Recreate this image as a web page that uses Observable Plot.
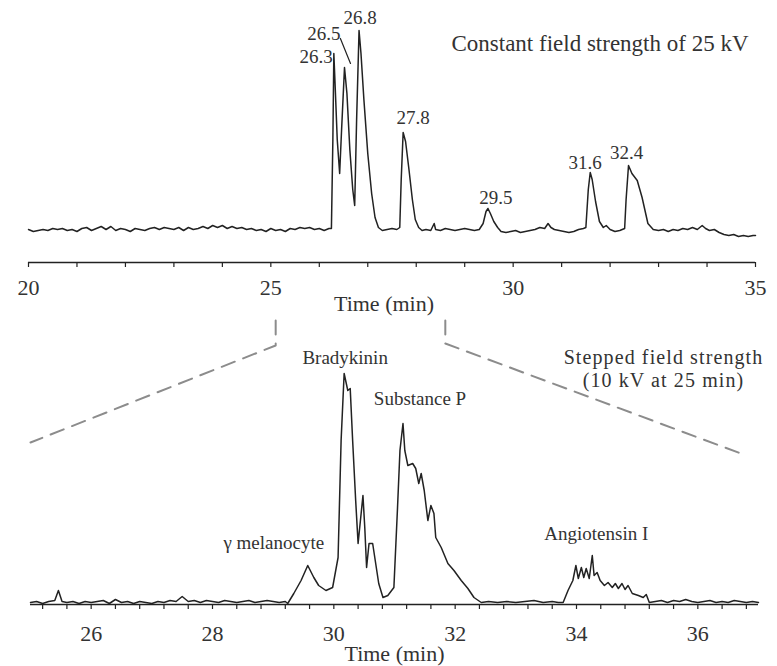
<!DOCTYPE html>
<html>
<head>
<meta charset="utf-8">
<script src="https://cdn.jsdelivr.net/npm/d3@7"></script>
<script src="https://cdn.jsdelivr.net/npm/@observablehq/plot@0.6"></script>
<style>
  body { margin: 0; background: #fff; }
  #chart { width: 777px; height: 666px; overflow: hidden; }
  #chart svg { display: block; }
  #chart .note text { letter-spacing: 1.1px; }
</style>
</head>
<body>
<div id="chart"></div>
<script>
// ---------- DATA ----------
// Upper electropherogram: constant field strength, [time (min), signal]
const topTrace = [
  [20.0,0],[20.1,-1],[20.2,-0.5],[20.3,0],[20.4,-0.5],[20.5,0.5],[20.6,0],[20.7,0.5],[20.8,-0.5],[20.9,0],
  [21.0,-1],[21.1,0.5],[21.2,1],[21.3,-0.5],[21.4,0.5],[21.5,1.5],[21.6,0],[21.7,1.5],[21.8,-0.5],[21.9,0.5],
  [22.0,0],[22.1,-1],[22.2,0.5],[22.3,0],[22.4,-0.5],[22.5,0.5],[22.6,1],[22.7,0],[22.8,1],[22.9,0.5],
  [23.0,0],[23.1,1],[23.2,-0.5],[23.3,1],[23.4,0],[23.5,0.5],[23.6,1.5],[23.7,0.5],[23.8,2],[23.9,1],
  [24.0,2],[24.1,0.5],[24.2,1.5],[24.3,0.5],[24.4,1],[24.5,0],[24.6,0.5],[24.7,-0.5],[24.8,0],[24.9,-1],
  [25.0,0.5],[25.1,-0.5],[25.2,0],[25.3,-1],[25.4,0.5],[25.5,0],[25.6,1],[25.7,0.5],[25.8,1],[25.9,0],
  [26.0,0.5],[26.1,-0.5],[26.2,0.5],[26.25,0.5],[26.28,45],[26.3,88],[26.33,70],[26.37,45],[26.42,28],
  [26.46,50],[26.52,81],[26.57,68],[26.63,40],[26.69,20],[26.73,12],[26.77,55],[26.82,99.5],[26.86,88],
  [26.92,65],[27.0,38],[27.08,18],[27.15,6],[27.22,1],[27.3,-0.5],[27.4,0],[27.5,0.5],[27.6,0],[27.66,1],
  [27.69,25],[27.73,48.5],[27.78,44],[27.85,30],[27.92,15],[27.98,5],[28.05,1],[28.12,-0.5],[28.2,0],
  [28.3,-0.5],[28.37,3],[28.4,0],[28.5,-0.5],[28.6,0.5],[28.7,0],[28.8,-0.5],[28.9,0],[29.0,0.5],[29.1,0],
  [29.2,-0.5],[29.3,0],[29.38,3],[29.44,9],[29.48,10.5],[29.53,8],[29.6,4],[29.68,1],[29.75,-1],[29.85,-1.5],
  [29.95,-1],[30.05,-0.5],[30.15,-1.5],[30.25,-1],[30.35,-0.5],[30.45,0],[30.55,1],[30.65,0.5],[30.72,3],
  [30.78,1],[30.85,0],[30.95,-0.5],[31.05,-1],[31.15,-1.5],[31.25,-1],[31.35,0],[31.45,0.5],[31.5,1],
  [31.55,20],[31.59,28.5],[31.63,25],[31.7,14],[31.78,4],[31.86,1],[31.92,2],[32.0,0],[32.1,-1],[32.2,-0.5],
  [32.3,0.5],[32.33,15],[32.38,32],[32.45,28],[32.56,24.5],[32.66,16],[32.78,3],[32.89,0],[33.0,-0.5],
  [33.1,0],[33.2,-1],[33.3,0],[33.4,-0.5],[33.5,0.5],[33.6,0],[33.7,1],[33.8,0],[33.9,2],[33.97,0.5],
  [34.05,-0.5],[34.15,0],[34.25,-1.5],[34.35,-2.5],[34.45,-3],[34.55,-2.5],[34.65,-3.5],[34.75,-3],
  [34.85,-3.5],[34.95,-3],[35.0,-3]
];
const topPeakLabels  = ["26.3", "26.5", "26.8", "27.8", "29.5", "31.6", "32.4"];
const topPeakTimes   = [26.3, 26.52, 26.82, 27.73, 29.48, 31.59, 32.38];
const topPeakHeights = [88, 81, 99.5, 48.5, 10.5, 28.5, 32];
const topTickValues  = [20,21,22,23,24,25,26,27,28,29,30,31,32,33,34,35];
const topTickLabels  = [20, 25, 30, 35];
const topNote = "Constant field strength of 25 kV";

// Lower electropherogram: stepped field strength, [time (min), signal]
const bottomTrace = [
  [25.0,0],[25.1,0.5],[25.2,-0.5],[25.3,0.5],[25.4,1],[25.46,6],[25.52,0.5],[25.6,0],[25.7,0.5],[25.8,-0.5],
  [25.9,0.5],[26.0,0],[26.1,0.5],[26.2,1],[26.3,-0.5],[26.4,1.5],[26.5,0],[26.6,0.5],[26.7,-0.5],[26.8,0.5],
  [26.9,0],[27.0,-0.5],[27.1,0.5],[27.2,0],[27.3,1],[27.4,0.5],[27.5,3],[27.6,0.5],[27.7,1],[27.8,0],
  [27.9,1],[28.0,0.5],[28.1,0],[28.2,1],[28.3,0.5],[28.4,0],[28.5,0.5],[28.6,1],[28.7,0],[28.8,0.5],
  [28.9,1],[29.0,0.5],[29.1,0],[29.2,0.5],[29.24,-0.5],[29.34,4.5],[29.46,11],[29.57,18.5],[29.67,12.5],
  [29.75,8.5],[29.87,6],[29.98,7.5],[30.07,22.5],[30.12,81],[30.17,114.5],[30.23,106],[30.27,107],
  [30.31,81],[30.36,51],[30.4,29.5],[30.45,44.5],[30.48,53.5],[30.51,37.5],[30.54,17.5],[30.58,29.5],
  [30.64,29.5],[30.69,19.5],[30.74,9.5],[30.81,2.5],[30.89,3.5],[30.99,7.5],[31.05,47.5],[31.09,76],
  [31.14,89.5],[31.17,76],[31.22,68.5],[31.3,69.5],[31.35,67],[31.4,59.5],[31.44,64.5],[31.49,56],
  [31.55,41],[31.6,48.5],[31.65,44.5],[31.68,32.5],[31.77,27.5],[31.88,19.5],[31.98,16],[32.1,11],
  [32.21,7],[32.31,2.5],[32.43,0],[32.55,0.5],[32.7,0],[32.85,0.5],[33.0,0],[33.15,0.5],[33.3,1],
  [33.45,0],[33.6,0.5],[33.7,0],[33.78,0],[33.86,6],[33.94,11],[33.99,18.5],[34.03,12],[34.08,17.5],
  [34.12,12.5],[34.16,17],[34.21,12],[34.26,23.5],[34.29,13.5],[34.34,15],[34.39,11],[34.46,8.5],
  [34.52,10],[34.59,7.5],[34.64,9.5],[34.69,7],[34.75,9.5],[34.8,6.5],[34.85,8.5],[34.92,4.5],
  [35.02,3.5],[35.1,2.5],[35.15,4],[35.2,0],[35.3,0.5],[35.4,1],[35.5,0],[35.6,1],[35.7,0.5],[35.8,1.5],
  [35.9,0.5],[36.0,0],[36.1,0.5],[36.2,1],[36.3,0],[36.4,0.5],[36.5,0],[36.6,1],[36.7,0.5],[36.8,0],
  [36.9,0.5],[37.0,0]
];
const bottomPeakLabels  = ["γ melanocyte", "Bradykinin", "Substance P", "Angiotensin I"];
const bottomPeakTimes   = [29.57, 30.17, 31.14, 34.26];
const bottomPeakHeights = [18.5, 114.5, 89.5, 23.5];
const bottomTickStep = 0.4;
const bottomTickFirst = 25.2, bottomTickLast = 36.8;
const bottomTickLabels = [26, 28, 30, 32, 34, 36];
const bottomNote = "Stepped field strength\n(10 kV at 25 min)";
const axisTitle = "Time (min)";

// Zoom guides: where they leave the upper time axis and where they land on the lower panel
const guideTopTimes = [25.1, 28.6];
const guideBottomTimes = [25, 36.8];

// ---------- LAYOUT ----------
const W = 777;
const topH = 316, botH = 350;
const topM = {left: 28, right: 22, top: 30, bottom: 54};
const botM = {left: 30, right: 19, top: 4, bottom: 62};
const topXDomain = [20, 35], topYDomain = [-16.5, 99.5];
const botXDomain = [25, 37], botYDomain = [-1, 141];
const guideLevels = {start: 141, bend: [128.5, 129.5], end: [80, 73.5]};
const topLabelLayout = [
  {dx: -1, dy: 3, anchor: "end"},
  {dx: -4, dy: -34, anchor: "end"},
  {dx: 1, dy: -13, anchor: "middle"},
  {dx: 10, dy: -15, anchor: "middle"},
  {dx: 8, dy: -11, anchor: "middle"},
  {dx: -5, dy: -10, anchor: "middle"},
  {dx: -2, dy: -13, anchor: "middle"}
];
const bottomLabelLayout = [
  {dx: -34, dy: -23}, {dx: 1, dy: -16}, {dx: 17, dy: -25}, {dx: 4, dy: -22}
];
const FONT = "'Liberation Serif', 'Times New Roman', serif";
const INK = "#222", TEXT = "#333";
const leaderShape = {draw(context, l) { context.moveTo(0, 0); context.lineTo(0, -l); }};

// ---------- TOP PANEL ----------
const topPlot = Plot.plot({
  width: W, height: topH,
  marginLeft: topM.left, marginRight: topM.right, marginTop: topM.top, marginBottom: topM.bottom,
  x: {domain: topXDomain},
  y: {domain: topYDomain, axis: null},
  style: {fontFamily: FONT, color: INK, background: "#fff"},
  marks: [
    Plot.ruleY([topYDomain[0]], {stroke: INK, strokeWidth: 1.5}),
    Plot.axisX(topTickValues, {
      tickSize: 5, tickPadding: 12, fontSize: 22, fill: TEXT, label: null, strokeWidth: 1.2,
      tickFormat: d => topTickLabels.includes(d) ? String(d) : ""
    }),
    Plot.line(topTrace, {x: d => d[0], y: d => d[1], stroke: INK, strokeWidth: 1.5}),
    ...topPeakLabels.map((lab, i) => Plot.text([i], {
      x: j => topPeakTimes[j], y: j => topPeakHeights[j], text: j => topPeakLabels[j],
      dx: topLabelLayout[i].dx, dy: topLabelLayout[i].dy, textAnchor: topLabelLayout[i].anchor,
      fontSize: 19, fill: TEXT
    })),
    Plot.vector([1], {
      x: j => topPeakTimes[j], y: j => topPeakHeights[j], length: 27, rotate: -22,
      anchor: "start", dx: 6, dy: -4, shape: leaderShape, stroke: INK, strokeWidth: 1.2
    }),
    Plot.text([axisTitle], {frameAnchor: "bottom", lineAnchor: "middle", dy: 41, dx: -8, fontSize: 22, fill: TEXT}),
    Plot.text([topNote], {frameAnchor: "top-right", textAnchor: "end", lineAnchor: "middle", dx: -7, dy: 13, fontSize: 23, fill: TEXT})
  ]
});

// ---------- BOTTOM PANEL ----------
const topX = topPlot.scale("x");
const botXPixel = d3.scaleLinear().domain(botXDomain).range([botM.left, W - botM.right]);
const guides = guideTopTimes.flatMap((t, i) => {
  const xb = botXPixel.invert(topX.apply(t));
  return [
    {g: i, x: xb, y: guideLevels.start},
    {g: i, x: xb, y: guideLevels.bend[i]},
    {g: i, x: guideBottomTimes[i], y: guideLevels.end[i]}
  ];
});
const bottomTicks = d3.range(Math.round((bottomTickLast - bottomTickFirst) / bottomTickStep) + 1)
  .map(k => +(bottomTickFirst + k * bottomTickStep).toFixed(1));

const botPlot = Plot.plot({
  width: W, height: botH,
  marginLeft: botM.left, marginRight: botM.right, marginTop: botM.top, marginBottom: botM.bottom,
  x: {domain: botXDomain},
  y: {domain: botYDomain, axis: null},
  style: {fontFamily: FONT, color: INK, background: "#fff"},
  marks: [
    Plot.line(guides, {x: "x", y: "y", z: "g", stroke: "#8c8c8c", strokeWidth: 2, strokeDasharray: "14,9"}),
    Plot.ruleY([botYDomain[0]], {stroke: INK, strokeWidth: 1.5}),
    Plot.axisX(bottomTicks, {
      tickSize: 5, tickPadding: 16, fontSize: 22, fill: TEXT, label: null, strokeWidth: 1.2,
      tickFormat: d => bottomTickLabels.includes(d) ? String(d) : ""
    }),
    Plot.line(bottomTrace, {x: d => d[0], y: d => d[1], stroke: INK, strokeWidth: 1.5}),
    ...bottomPeakLabels.map((lab, i) => Plot.text([i], {
      x: j => bottomPeakTimes[j], y: j => bottomPeakHeights[j], text: j => bottomPeakLabels[j],
      dx: bottomLabelLayout[i].dx, dy: bottomLabelLayout[i].dy, fontSize: 19, fill: TEXT
    })),
    Plot.text([axisTitle], {frameAnchor: "bottom", lineAnchor: "middle", dy: 49, fontSize: 22, fill: TEXT}),
    Plot.text([bottomNote], {
      frameAnchor: "top-right", textAnchor: "middle", lineAnchor: "middle", lineHeight: 1.15,
      dx: -95, dy: 48, fontSize: 20, fill: TEXT, className: "note"
    })
  ]
});

document.getElementById("chart").append(topPlot, botPlot);
</script>
</body>
</html>
